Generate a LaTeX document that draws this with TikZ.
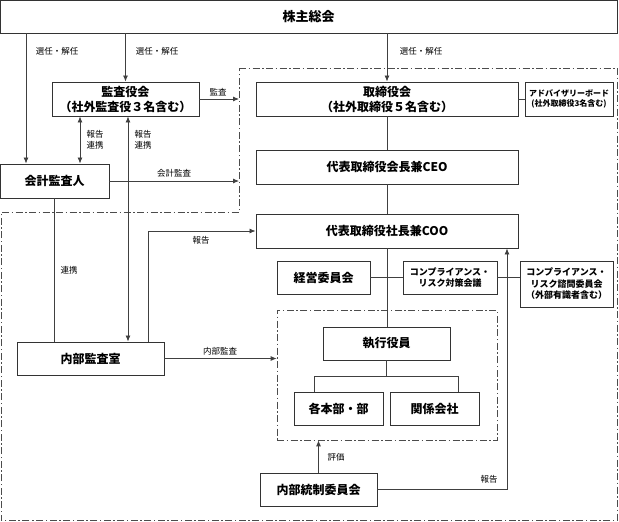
\documentclass[tikz,border=0pt]{standalone}
\usepackage{fontspec}
\setmainfont{Noto Sans CJK JP}
\usetikzlibrary{arrows.meta}

\tikzset{
  box/.style={draw=black!80, line width=0.9pt, fill=white, align=center,
    inner sep=0pt, font=\fontsize{12}{15}\selectfont\bfseries},
  smallbox/.style={box, font=\fontsize{9}{11.5}\selectfont\bfseries},
  lbl/.style={inner sep=0pt, align=left, font=\fontsize{8.5}{11}\selectfont},
  link/.style={draw=black!75, line width=0.8pt},
  arr/.style={link, -{Latex[length=6pt,width=5pt]}},
  biarr/.style={link, {Latex[length=6pt,width=5pt]}-{Latex[length=6pt,width=5pt]}},
  area/.style={draw=black!70, line width=0.7pt,
    dash pattern=on 7pt off 2.5pt on 1.5pt off 2.5pt},
}

\begin{document}
\begin{tikzpicture}[x=1pt,y=-1pt]
\useasboundingbox (0,0) rectangle (619,522);

% board side (dash-dot region)
\draw [area] (239,68) -- (617,68) -- (617,520) -- (1,520) -- (1,212)
    -- (239,212) -- cycle;
\node [area, minimum width=220pt, minimum height=130pt, inner sep=0pt]
    (execgrp) at (387,375) {};                  % executive group

% boxes
\node [box, minimum width=617pt, minimum height=33pt,
    font=\fontsize{13}{15}\selectfont\bfseries] (soukai) at (308.5,16.5) {株主総会};
\node [box, minimum width=147pt, minimum height=34pt] (kansa) at (125.5,99)
    {監査役会\\（社外監査役３名含む）};
\node [box, minimum width=109pt, minimum height=34pt] (kaikei) at (54.5,181) {会計監査人};
\node [box, minimum width=147pt, minimum height=33pt] (naibukansa) at (90.5,358.5) {内部監査室};

\node [box, minimum width=262pt, minimum height=34pt] (tori) at (387,99)
    {取締役会\\（社外取締役５名含む）};
\node [smallbox, minimum width=88pt, minimum height=34pt,
    font=\fontsize{8}{10.5}\selectfont\bfseries] (advisory) at (569,99)
    {アドバイザリーボード\\(社外取締役3名含む)};
\node [box, minimum width=262pt, minimum height=34pt] (ceo) at (387,167) {代表取締役会長兼CEO};
\node [box, minimum width=262pt, minimum height=34pt] (coo) at (387,231) {代表取締役社長兼COO};

\node [box, minimum width=93pt, minimum height=33pt] (keiei) at (323.5,277.5) {経営委員会};
\node [smallbox, minimum width=94pt, minimum height=33pt] (compl) at (450,277.5)
    {コンプライアンス・\\リスク対策会議};
\node [smallbox, minimum width=93pt, minimum height=46pt] (shimon) at (566.5,284)
    {コンプライアンス・\\リスク諮問委員会\\（外部有識者含む）};

\node [box, minimum width=127pt, minimum height=33pt] (shikko) at (386.5,343.5) {執行役員};
\node [box, minimum width=89pt, minimum height=33pt] (honbu) at (338.5,408.5) {各本部・部};
\node [box, minimum width=89pt, minimum height=33pt] (kankei) at (434.5,408.5) {関係会社};
\node [box, minimum width=117pt, minimum height=33pt] (naibutousei) at (318.5,489.5) {内部統制委員会};

% helper coordinates
\coordinate (c1) at (26,0);
\coordinate (c3) at (80,0);
\coordinate (c4) at (128,0);
\coordinate (c6) at (148,0);
\coordinate (c7) at (507,0);
\coordinate (rg) at (239,0);
\coordinate (b1) at (314,376);
\coordinate (b2) at (458,376);

% election / dismissal
\draw [arr] (c1 |- soukai.south) -- (c1 |- kaikei.north);
\draw [arr] (soukai.south -| kansa.north) -- (kansa.north);
\draw [arr] (soukai.south -| tori.north) -- (tori.north);
\node [lbl] (sen1) at (57,51) {選任・解任};
\node [lbl] (sen2) at (157,51) {選任・解任};
\node [lbl] (sen3) at (421,51) {選任・解任};

% audit lines
\draw [arr] (kansa.east) -- (kansa.east -| rg);
\node [lbl] (kansalbl) at (218,92) {監査};
\draw [biarr] (c3 |- kansa.south) -- (c3 |- kaikei.north);
\node [lbl] (renkei1) at (95,140) {報告\\連携};
\draw [biarr] (c4 |- kansa.south) -- (c4 |- naibukansa.north);
\node [lbl] (renkei2) at (143,140) {報告\\連携};
\draw [arr] (kaikei.east) -- (kaikei.east -| rg);
\node [lbl] (kaikeilbl) at (174,173) {会計監査};
\draw [link] (kaikei.south) -- (kaikei.south |- naibukansa.north);
\node [lbl] (renkei3) at (69,270) {連携};
\draw [arr] (c6 |- naibukansa.north) |- (coo.west);
\node [lbl] (hokoku1) at (201,240) {報告};
\draw [arr] (naibukansa.east) -- (naibukansa.east -| execgrp.west);
\node [lbl] (naibulbl) at (220,351) {内部監査};

% management chain
\draw [link] (tori.east) -- (advisory.west);
\draw [link] (tori.south) -- (ceo.north);
\draw [link] (ceo.south) -- (coo.north);
\draw [link] (coo.south) -- (coo.south |- shikko.north);
\draw [link] (keiei.east) -- (compl.west);
\draw [link] (compl.east) -- (compl.east -| shimon.west);
\draw [link] (shikko.south) -- (shikko.south |- b1);
\draw [link] (b1 |- honbu.north) -- (b1) -- (b2) -- (b2 |- kankei.north);

% internal control
\draw [arr] (naibutousei.north) -- (naibutousei.north |- execgrp.south);
\node [lbl] (hyouka) at (336,457) {評価};
\draw [arr] (naibutousei.east) -| (c7 |- coo.south);
\node [lbl] (hokoku2) at (489,479) {報告};

\end{tikzpicture}
\end{document}
